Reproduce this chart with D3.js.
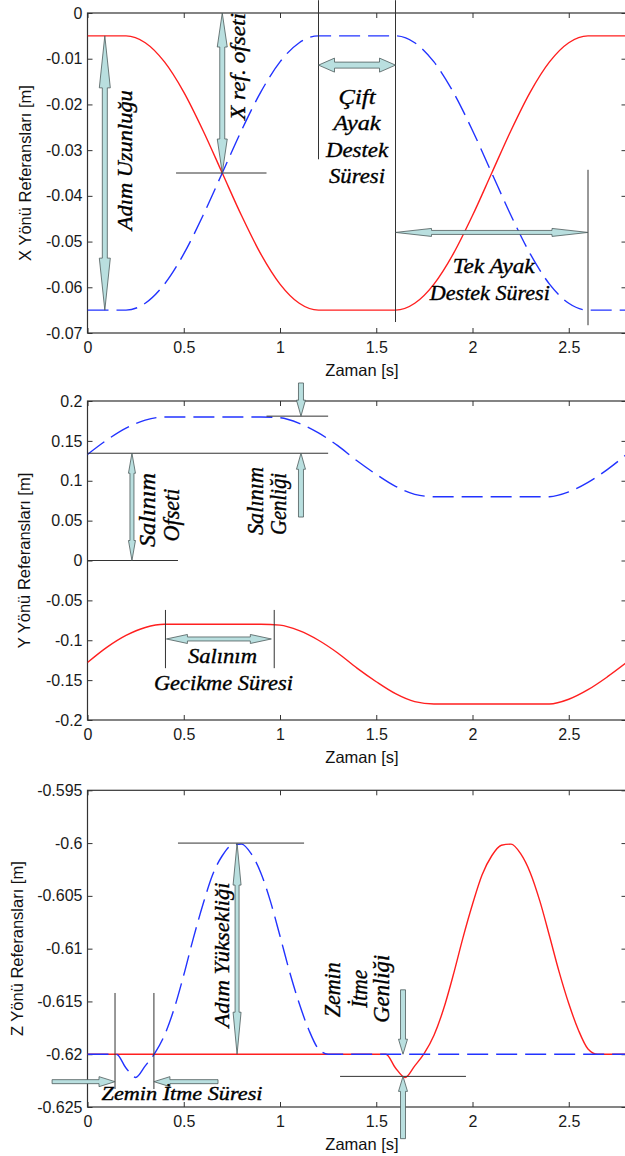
<!DOCTYPE html>
<html>
<head>
<meta charset="utf-8">
<script src="https://cdn.jsdelivr.net/npm/d3@7/dist/d3.min.js"></script>
<style>
  body { margin: 0; background: #fff; }
  svg { display: block; }
</style>
</head>
<body>
<div id="chart"></div>
<script>
// zaman ekseni (s)
var zamanXY = [0, 0.1, 0.2, 0.3, 0.4, 0.5, 0.6, 0.7, 0.8, 0.9, 1.0, 1.1, 1.2, 1.3, 1.4,
               1.5, 1.6, 1.7, 1.8, 1.9, 2.0, 2.1, 2.2, 2.3, 2.4, 2.5, 2.6, 2.7, 2.8];

// X yonu referanslari (m)
var xKirmizi = [-0.005, -0.005, -0.005, -0.0065, -0.0107, -0.0173, -0.0257, -0.035, -0.0443, -0.0527,
                -0.0593, -0.0635, -0.065, -0.065, -0.065, -0.065, -0.065, -0.0635, -0.0593, -0.0527,
                -0.0443, -0.035, -0.0257, -0.0173, -0.0107, -0.0065, -0.005, -0.005, -0.005];
var xMavi = [-0.065, -0.065, -0.065, -0.0635, -0.0593, -0.0527, -0.0443, -0.035, -0.0257, -0.0173,
             -0.0107, -0.0065, -0.005, -0.005, -0.005, -0.005, -0.005, -0.0065, -0.0107, -0.0173,
             -0.0257, -0.035, -0.0443, -0.0527, -0.0593, -0.0635, -0.065, -0.065, -0.065];

// Y yonu referanslari (m)
var yMavi = [0.133, 0.151, 0.166, 0.176, 0.18, 0.18, 0.18, 0.18, 0.18, 0.18,
             0.179, 0.172, 0.16, 0.144, 0.125, 0.108, 0.093, 0.083, 0.08, 0.08,
             0.08, 0.08, 0.08, 0.08, 0.08, 0.086, 0.098, 0.114, 0.133];
var yKirmizi = [-0.128, -0.109, -0.094, -0.084, -0.08, -0.08, -0.08, -0.08, -0.08, -0.08,
                -0.081, -0.088, -0.1, -0.116, -0.135, -0.152, -0.167, -0.177, -0.18, -0.18,
                -0.18, -0.18, -0.18, -0.18, -0.18, -0.174, -0.162, -0.146, -0.128];

// Z yonu referanslari (m)
var zamanZ = [0, 0.05, 0.1, 0.15, 0.2, 0.25, 0.3, 0.35, 0.4, 0.45, 0.5, 0.55, 0.6, 0.65, 0.7,
              0.75, 0.8, 0.85, 0.9, 0.95, 1.0, 1.05, 1.1, 1.15, 1.2, 1.25, 1.3, 1.35, 1.4,
              1.45, 1.5, 1.55, 1.6, 1.65, 1.7, 1.75, 1.8, 1.85, 1.9, 1.95, 2.0, 2.05, 2.1,
              2.15, 2.2, 2.25, 2.3, 2.35, 2.4, 2.45, 2.5, 2.55, 2.6, 2.65, 2.7, 2.75, 2.8];
var zMavi = [-0.62, -0.62, -0.62, -0.62, -0.6213, -0.6222, -0.6211, -0.6199, -0.6182, -0.6157,
             -0.6125, -0.609, -0.6058, -0.603, -0.6012, -0.6002, -0.6001, -0.601, -0.6028, -0.6055,
             -0.6088, -0.6122, -0.6152, -0.6177, -0.6195, -0.62, -0.62, -0.62, -0.62,
             -0.62, -0.62, -0.62, -0.62, -0.62, -0.62, -0.62, -0.62, -0.62, -0.62, -0.62,
             -0.62, -0.62, -0.62, -0.62, -0.62, -0.62, -0.62, -0.62, -0.62, -0.62, -0.62,
             -0.62, -0.62, -0.62, -0.62, -0.62, -0.62];
var zKirmizi = [-0.62, -0.62, -0.62, -0.62, -0.62, -0.62, -0.62, -0.62, -0.62, -0.62,
                -0.62, -0.62, -0.62, -0.62, -0.62, -0.62, -0.62, -0.62, -0.62, -0.62,
                -0.62, -0.62, -0.62, -0.62, -0.62, -0.62, -0.62, -0.62, -0.62,
                -0.62, -0.62, -0.62, -0.6213, -0.6222, -0.6211, -0.6199, -0.6182, -0.6157, -0.6125, -0.609,
                -0.6058, -0.603, -0.6012, -0.6002, -0.6001, -0.601, -0.6028, -0.6055, -0.6088, -0.6122,
                -0.6152, -0.6177, -0.6195, -0.62, -0.62, -0.62, -0.62];

// eksen etiketleri
var xTicks = [0, 0.5, 1, 1.5, 2, 2.5];
var xTickY = [0, -0.01, -0.02, -0.03, -0.04, -0.05, -0.06, -0.07];
var yTickY = [0.2, 0.15, 0.1, 0.05, 0, -0.05, -0.1, -0.15, -0.2];
var zTickY = [-0.595, -0.6, -0.605, -0.61, -0.615, -0.62, -0.625];

var W = 625, H = 1156;
var svg = d3.select("#chart").append("svg").attr("width", W).attr("height", H);

var x = d3.scaleLinear().domain([0, 2.8]).range([87.5, 626.5]);
var fmt = function (d) { return String(+d.toFixed(3)); };
var line = d3.line().curve(d3.curveMonotoneX);

var panels = [
  { top: 13, bottom: 333, domain: [-0.07, 0], ticks: xTickY, ylab: "X Yönü Referansları [m]", ylabX: 31,
    t: zamanXY, red: xKirmizi, blue: xMavi,
    lines: [[0.46, -0.035, 0.93, -0.035], [1.2, 0.0028, 1.2, -0.032], [1.6, 0.0028, 1.6, -0.0676], [2.6, -0.0343, 2.6, -0.0683]],
    arrows: [
      { a: [0.09, -0.005], b: [0.09, -0.065], dbl: true, s: 5, h: 52, w: 11 },
      { a: [0.7, 0], b: [0.7, -0.035], dbl: true, s: 5, h: 34, w: 10 },
      { a: [1.2, -0.0114], b: [1.6, -0.0114], dbl: true, s: 6, h: 16, w: 14 },
      { a: [1.6, -0.048], b: [2.6, -0.048], dbl: true, s: 4, h: 36, w: 8 }
    ],
    texts: [
      { t: 0.231, v: -0.0322, s: "Adım Uzunluğu", rot: true, len: 140, fs: 21 },
      { t: 0.818, v: -0.0117, s: "X ref. ofseti", rot: true, len: 107, fs: 21 },
      { t: 1.4, v: -0.0199, s: "Çift", len: 37, fs: 22 },
      { t: 1.4, v: -0.0256, s: "Ayak", len: 47, fs: 22 },
      { t: 1.4, v: -0.0315, s: "Destek", len: 62, fs: 22 },
      { t: 1.4, v: -0.0372, s: "Süresi", len: 56, fs: 22 },
      { t: 2.11, v: -0.0569, s: "Tek Ayak", len: 82, fs: 21 },
      { t: 2.09, v: -0.0628, s: "Destek Süresi", len: 120, fs: 21 }
    ] },
  { top: 401, bottom: 720, domain: [-0.2, 0.2], ticks: yTickY, ylab: "Y Yönü Referansları [m]", ylabX: 30,
    t: zamanXY, red: yKirmizi, blue: yMavi,
    lines: [[0, 0.1345, 1.25, 0.1345], [0.93, 0.181, 1.25, 0.181], [0, 0, 0.47, 0],
            [0.405, -0.062, 0.405, -0.135], [0.97, -0.062, 0.97, -0.135]],
    arrows: [
      { a: [0.231, 0.1345], b: [0.231, 0], dbl: true, s: 4, h: 20, w: 7 },
      { a: [1.109, 0.2226], b: [1.109, 0.181], dbl: false, s: 5, h: 16, w: 9 },
      { a: [1.109, 0.0545], b: [1.109, 0.1345], dbl: false, s: 5, h: 16, w: 9 },
      { a: [0.41, -0.0984], b: [0.955, -0.0984], dbl: true, s: 4, h: 21, w: 9 }
    ],
    texts: [
      { t: 0.351, v: 0.0633, s: "Salınım", rot: true, len: 74, fs: 23 },
      { t: 0.475, v: 0.057, s: "Ofseti", rot: true, len: 53, fs: 23 },
      { t: 0.912, v: 0.0746, s: "Salınım", rot: true, len: 68, fs: 23 },
      { t: 1.031, v: 0.0708, s: "Genliği", rot: true, len: 62, fs: 23 },
      { t: 0.701, v: -0.1285, s: "Salınım", len: 69, fs: 20 },
      { t: 0.706, v: -0.1624, s: "Gecikme Süresi", len: 139, fs: 20 }
    ] },
  { top: 790.3, bottom: 1107, domain: [-0.625, -0.595], ticks: zTickY, ylab: "Z Yönü Referansları [m]", ylabX: 23,
    t: zamanZ, red: zKirmizi, blue: zMavi,
    lines: [[0.47, -0.6, 1.125, -0.6], [0.143, -0.6142, 0.143, -0.6233], [0.345, -0.6142, 0.345, -0.6233],
            [1.312, -0.6221, 1.966, -0.6221]],
    arrows: [
      { a: [0.777, -0.6], b: [0.777, -0.62], dbl: true, s: 4, h: 42, w: 8 },
      { a: [-0.184, -0.6226], b: [0.143, -0.6226], dbl: false, s: 4, h: 16, w: 10 },
      { a: [0.678, -0.6226], b: [0.345, -0.6226], dbl: false, s: 4, h: 16, w: 10 },
      { a: [1.639, -0.6139], b: [1.639, -0.62], dbl: false, s: 5, h: 15, w: 9 },
      { a: [1.639, -0.628], b: [1.639, -0.6221], dbl: false, s: 5, h: 15, w: 9 }
    ],
    texts: [
      { t: 0.735, v: -0.6106, s: "Adım Yüksekliği", rot: true, len: 145, fs: 22 },
      { t: 0.491, v: -0.6243, s: "Zemin İtme Süresi", len: 161, fs: 19 },
      { t: 1.312, v: -0.6139, s: "Zemin", rot: true, len: 55, fs: 23 },
      { t: 1.451, v: -0.6138, s: "İtme", rot: true, len: 38, fs: 23 },
      { t: 1.566, v: -0.6138, s: "Genliği", rot: true, len: 68, fs: 23 }
    ] }
];

function arrowPoints(p1, p2, o) {
  var dx = p2[0] - p1[0], dy = p2[1] - p1[1], L = Math.sqrt(dx * dx + dy * dy);
  var u = [dx / L, dy / L], n = [-u[1], u[0]];
  function pt(base, along, side) { return [base[0] + u[0] * along + n[0] * side, base[1] + u[1] * along + n[1] * side]; }
  var s = o.s / 2, w = o.w / 2, h = o.h;
  if (o.dbl) {
    return [p1, pt(p1, h, w), pt(p1, h, s), pt(p2, -h, s), pt(p2, -h, w), p2,
            pt(p2, -h, -w), pt(p2, -h, -s), pt(p1, h, -s), pt(p1, h, -w)];
  }
  return [pt(p1, 0, s), pt(p2, -h, s), pt(p2, -h, w), p2, pt(p2, -h, -w), pt(p2, -h, -s), pt(p1, 0, -s)];
}

panels.forEach(function (p, i) {
  var y = d3.scaleLinear().domain(p.domain).range([p.bottom, p.top]);
  var g = svg.append("g");
  var x0 = x.range()[0], x1 = x.range()[1];

  g.append("clipPath").attr("id", "clip" + i)
    .append("rect").attr("x", x0).attr("y", p.top).attr("width", x1 - x0).attr("height", p.bottom - p.top);

  // eksenler (ic tikler, dort kenar)
  var ax = g.append("g").attr("class", "axes");
  ax.append("g").attr("transform", "translate(0," + p.bottom + ")")
    .call(d3.axisBottom(x).tickValues(xTicks).tickFormat(fmt).tickSizeInner(-5).tickSizeOuter(0).tickPadding(9));
  ax.append("g").attr("transform", "translate(0," + p.top + ")")
    .call(d3.axisTop(x).tickValues(xTicks).tickFormat("").tickSizeInner(-5).tickSizeOuter(0));
  ax.append("g").attr("transform", "translate(" + x0 + ",0)")
    .call(d3.axisLeft(y).tickValues(p.ticks).tickFormat(fmt).tickSizeInner(-5).tickSizeOuter(0).tickPadding(5));
  ax.append("g").attr("transform", "translate(" + x1 + ",0)")
    .call(d3.axisRight(y).tickValues(p.ticks).tickFormat("").tickSizeInner(-5).tickSizeOuter(0));
  ax.selectAll(".domain").remove();
  ax.selectAll(".tick line").attr("stroke", "#333").attr("stroke-width", 1);
  ax.selectAll(".tick text").attr("fill", "#1a1a1a").style("font-family", "Liberation Sans, Arial, sans-serif").style("font-size", "16px");
  g.append("rect").attr("x", x0).attr("y", p.top).attr("width", x1 - x0).attr("height", p.bottom - p.top)
    .attr("fill", "none").attr("stroke", "#333").attr("stroke-width", 1.2);

  // egriler
  var curves = g.append("g").attr("clip-path", "url(#clip" + i + ")");
  curves.append("path")
    .attr("d", line(p.t.map(function (t, k) { return [x(t), y(p.red[k])]; })))
    .attr("fill", "none").attr("stroke", "#ff1f1f").attr("stroke-width", 1.4);
  curves.append("path")
    .attr("d", line(p.t.map(function (t, k) { return [x(t), y(p.blue[k])]; })))
    .attr("fill", "none").attr("stroke", "#2233ff").attr("stroke-width", 1.4)
    .attr("stroke-dasharray", "21,8");

  // eksen yazilari
  g.append("text").attr("x", 362).attr("y", p.bottom + 43).attr("text-anchor", "middle")
    .style("font-family", "Liberation Sans, Arial, sans-serif").style("font-size", "16.5px").attr("fill", "#111")
    .text("Zaman [s]");
  g.append("text").attr("transform", "translate(" + p.ylabX + "," + ((p.top + p.bottom) / 2) + ") rotate(-90)")
    .attr("text-anchor", "middle")
    .style("font-family", "Liberation Sans, Arial, sans-serif").style("font-size", "16.5px").attr("fill", "#111")
    .text(p.ylab);

  // aciklamalar
  var an = g.append("g");
  p.lines.forEach(function (l) {
    an.append("line").attr("x1", x(l[0])).attr("y1", y(l[1])).attr("x2", x(l[2])).attr("y2", y(l[3]))
      .attr("stroke", "#333").attr("stroke-width", 1);
  });
  p.arrows.forEach(function (a) {
    var pts = arrowPoints([x(a.a[0]), y(a.a[1])], [x(a.b[0]), y(a.b[1])], a);
    an.append("polygon").attr("points", pts.map(function (q) { return q.join(","); }).join(" "))
      .attr("fill", "#b9dfdf").attr("stroke", "#4d5b5b").attr("stroke-width", 0.8);
  });
  p.texts.forEach(function (tx) {
    an.append("text")
      .attr("transform", "translate(" + x(tx.t) + "," + y(tx.v) + ")" + (tx.rot ? " rotate(-90)" : ""))
      .attr("text-anchor", "middle")
      .style("font-family", "'Liberation Serif', 'DejaVu Serif', serif").style("font-style", "italic")
      .style("font-size", tx.fs + "px").attr("fill", "#000")
      .attr("stroke", "#000").attr("stroke-width", 0.35)
      .attr("textLength", tx.len).attr("lengthAdjust", "spacingAndGlyphs")
      .text(tx.s);
  });
});
</script>
</body>
</html>
